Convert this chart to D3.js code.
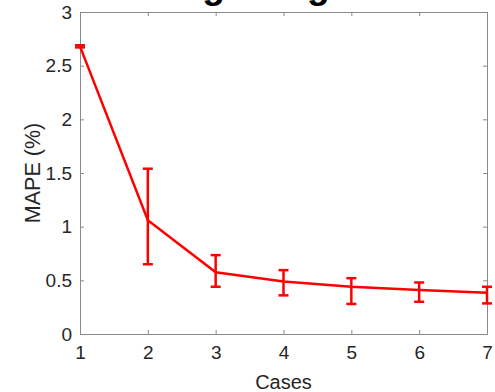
<!DOCTYPE html>
<html>
<head>
<meta charset="utf-8">
<script src="https://cdn.jsdelivr.net/npm/d3@7"></script>
<style>
  body { margin: 0; background: #fff; }
  svg { display: block; font-family: "Liberation Sans", Arial, sans-serif; }
</style>
</head>
<body>
<svg id="chart" width="495" height="392"></svg>
<script>
// values
const cases = [1, 2, 3, 4, 5, 6, 7];
const mape = [2.68, 1.06, 0.575, 0.49, 0.44, 0.41, 0.385];
const errLow = [2.67, 0.65, 0.44, 0.36, 0.28, 0.30, 0.285];
const errHigh = [2.69, 1.54, 0.735, 0.595, 0.52, 0.48, 0.44];
const yTicks = [0, 0.5, 1, 1.5, 2, 2.5, 3];
const xTicks = [1, 2, 3, 4, 5, 6, 7];

const svg = d3.select("#chart");
const m = { left: 80, right: 8, top: 12, bottom: 58 };
const W = 495, H = 392;

const x = d3.scaleLinear().domain([1, 7]).range([m.left, W - m.right]);
const y = d3.scaleLinear().domain([0, 3]).range([H - m.bottom, m.top]);

const axisColor = "#8a8a8a";
const textColor = "#262626";

// title (partly cropped off the top in the reference)
svg.append("text")
  .attr("x", (x(1) + x(7)) / 2 - 6)
  .attr("y", -2)
  .attr("text-anchor", "middle")
  .attr("font-size", 37)
  .attr("font-weight", "bold")
  .attr("fill", "#000")
  .text("Voltage Magnitude");

// box with inward ticks on all four sides
const styleAxis = (g) => {
  g.selectAll("path.domain").attr("stroke", axisColor).attr("stroke-width", 1);
  g.selectAll(".tick line").attr("stroke", axisColor);
  g.selectAll(".tick text").attr("fill", textColor).attr("font-size", 19);
};

svg.append("g")
  .attr("transform", `translate(0,${y(0)})`)
  .call(d3.axisBottom(x).tickValues(xTicks).tickFormat(d3.format("d")).tickSizeInner(-4).tickSizeOuter(0).tickPadding(12))
  .call(styleAxis);

svg.append("g")
  .attr("transform", `translate(0,${y(3)})`)
  .call(d3.axisTop(x).tickValues(xTicks).tickFormat("").tickSizeInner(-4).tickSizeOuter(0))
  .call(styleAxis);

svg.append("g")
  .attr("transform", `translate(${x(1)},0)`)
  .call(d3.axisLeft(y).tickValues(yTicks).tickFormat(d3.format("")).tickSizeInner(-4).tickSizeOuter(0).tickPadding(8))
  .call(styleAxis);

svg.append("g")
  .attr("transform", `translate(${x(7)},0)`)
  .call(d3.axisRight(y).tickValues(yTicks).tickFormat("").tickSizeInner(-4).tickSizeOuter(0))
  .call(styleAxis);

// axis labels
svg.append("text")
  .attr("x", (x(1) + x(7)) / 2)
  .attr("y", 389)
  .attr("text-anchor", "middle")
  .attr("font-size", 20)
  .attr("fill", textColor)
  .text("Cases");

svg.append("text")
  .attr("transform", `translate(40,${(y(0) + y(3)) / 2}) rotate(-90)`)
  .attr("text-anchor", "middle")
  .attr("font-size", 21.5)
  .attr("fill", textColor)
  .text("MAPE (%)");

// data line + error bars
const red = "#ff0000";
const pts = cases.map((c, i) => ({ c, v: mape[i], lo: errLow[i], hi: errHigh[i] }));

svg.append("path")
  .datum(pts)
  .attr("fill", "none")
  .attr("stroke", red)
  .attr("stroke-width", 2.5)
  .attr("d", d3.line().x((d) => x(d.c)).y((d) => y(d.v)));

const eb = svg.append("g").attr("stroke", red).attr("stroke-width", 2.5).attr("fill", "none");
const cap = 5;
pts.forEach((d) => {
  eb.append("line").attr("x1", x(d.c)).attr("x2", x(d.c)).attr("y1", y(d.lo)).attr("y2", y(d.hi));
  eb.append("line").attr("x1", x(d.c) - cap).attr("x2", x(d.c) + cap).attr("y1", y(d.lo)).attr("y2", y(d.lo));
  eb.append("line").attr("x1", x(d.c) - cap).attr("x2", x(d.c) + cap).attr("y1", y(d.hi)).attr("y2", y(d.hi));
});
</script>
</body>
</html>
